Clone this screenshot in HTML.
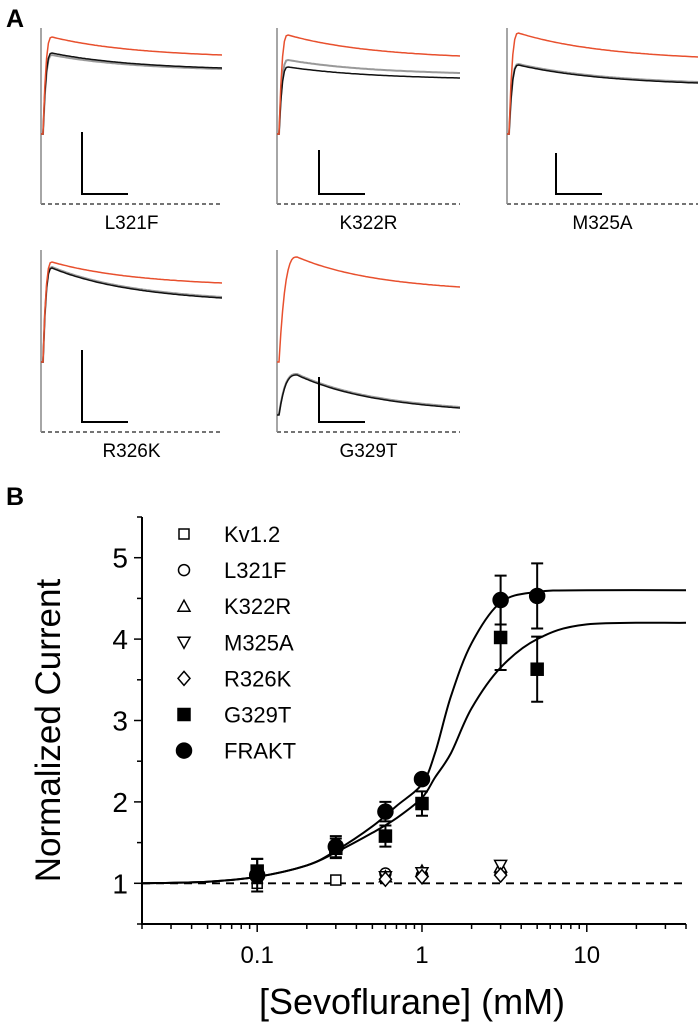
<!DOCTYPE html>
<html><head><meta charset="utf-8"><style>
body{margin:0;background:#fff;}
svg{display:block;font-family:"Liberation Sans",Arial,sans-serif;}
</style></head><body>
<svg id="fig" width="700" height="1026" viewBox="0 0 700 1026">
<text x="6" y="27" font-size="25" font-weight="bold">A</text>
<text x="6" y="505" font-size="25" font-weight="bold">B</text>
<g id="panelA"></g>
<g id="chart"></g>
</svg>
<script>
const NS="http://www.w3.org/2000/svg";
function mk(tag,attrs,parent,txt){const e=document.createElementNS(NS,tag);for(const k in attrs)e.setAttribute(k,attrs[k]);if(txt!==undefined)e.textContent=txt;parent.appendChild(e);return e;}

// ---------- Panel A: traces ----------
const traceNames=["L321F","K322R","M325A","R326K","G329T"];
const traceX0=[41,277,507,41,277];
const traceBase=[204,204,204,432,432];
const traceW=[181,183,191,181,183];
const redTr=[[37,55],[35,56],[33,57],[262,283],[257,287]];
const grayTr=[[55,69],[60,73],[64,82],[267,297],[374,407]];
const blackTr=[[53,68],[67,78],[65,83],[268,298],[375,408]];
const barX=[82,319,556,82,319];
const barTop=[132,150,153,350,377];
const A=document.getElementById('panelA');
function tracePath(x0,base,w,peak,end,tpk){
  const y0=Math.max(base-70,Math.min(base-10,peak+40));
  let d=`M${x0} ${y0}`;
  for(let i=0;i<=100;i++){
    const t=i/100, x=x0+2+t*(w-2);
    let y;
    const tp=tpk||0.05;
    if(t<tp){const r=t/tp;y=y0+(peak-y0)*(1-Math.pow(1-r,3));}
    else{const r=(t-tp)/(1-tp);y=end+(peak-end)*Math.exp(-r*2.2)-(peak-end)*Math.exp(-2.2)*r;}
    d+=` L${x.toFixed(1)} ${y.toFixed(1)}`;
  }
  return d;
}
for(let i=0;i<5;i++){
  const g=mk('g',{},A);
  
  
  const x0=traceX0[i],b=traceBase[i],w=traceW[i];
  mk('line',{x1:x0,y1:b,x2:x0+w,y2:b,stroke:'#222','stroke-width':1.2,'stroke-dasharray':'4,3'},g);
  mk('line',{x1:x0,y1:(i<3?28:250),x2:x0,y2:b,stroke:'#888','stroke-width':1.5},g);
  const tp=i===4?0.1:0.05;
  mk('path',{d:tracePath(x0,b,w,grayTr[i][0],grayTr[i][1],tp),fill:'none',stroke:'#999','stroke-width':2},g);
  mk('path',{d:tracePath(x0,b,w,blackTr[i][0],blackTr[i][1],tp),fill:'none',stroke:'#111','stroke-width':1.5},g);
  mk('path',{d:tracePath(x0,b,w,redTr[i][0],redTr[i][1],tp),fill:'none',stroke:'#e8502e','stroke-width':1.5},g);
  mk('path',{d:`M${barX[i]} ${barTop[i]} V${b-10} H${barX[i]+46}`,fill:'none',stroke:'#000','stroke-width':2},g);
  const t=mk('text',{x:x0+w/2,y:b+25,'font-size':19,'text-anchor':'middle'},g,traceNames[i]);
  
  
}

// ---------- Panel B: chart ----------
const concs=[0.1,0.3,0.6,1,3,5];
const kvX=[0.1,0.3]; const kvY=[1.0,1.04];
const l321fX=[0.6,1,3]; const l321fY=[1.12,1.1,1.12];
const k322rX=[0.6,1,3]; const k322rY=[1.08,1.15,1.2];
const m325aX=[0.6,1,3]; const m325aY=[1.08,1.13,1.22];
const r326kX=[0.6,1,3]; const r326kY=[1.05,1.08,1.1];
const g329tY=[1.15,1.43,1.58,1.98,4.02,3.63];
const g329tErr=[0.15,0.12,0.13,0.15,0.4,0.4];
const fraktY=[1.1,1.45,1.88,2.28,4.48,4.53];
const fraktErr=[0.2,0.13,0.12,0.05,0.3,0.4];
const fitX=[0.02,0.05,0.1,0.2,0.3,0.5,0.7,1,1.2,1.5,2,3,5,10,40];
const fitFrakt=[1.0,1.02,1.08,1.22,1.4,1.7,1.95,2.22,2.6,3.3,3.95,4.45,4.58,4.6,4.6];
const fitG329t=[1.0,1.02,1.08,1.22,1.38,1.62,1.8,2.05,2.3,2.6,3.15,3.65,4.0,4.18,4.2];
const yTicks=[1,2,3,4,5];
const xTickLabels=["0.1","1","10"];
const xTickVals=[0.1,1,10];
const legendNames=["Kv1.2","L321F","K322R","M325A","R326K","G329T","FRAKT"];

const L=142,R=686,T=517,B=924;
const xmin=Math.log10(0.02),xmax=Math.log10(40),ymin=0.5,ymax=5.5;
const sx=v=>L+(Math.log10(v)-xmin)/(xmax-xmin)*(R-L);
const sy=v=>B-(v-ymin)/(ymax-ymin)*(B-T);
const C=document.getElementById('chart');

const ax=mk('path',{d:`M${L} ${T} V${B} H${R}`,fill:'none',stroke:'#000','stroke-width':2},C);

for(let v=0.5;v<=5.5001;v+=0.5){const maj=Math.abs(v-Math.round(v))<1e-6;
  mk('line',{x1:L,x2:L-(maj?8:5),y1:sy(v),y2:sy(v),stroke:'#000','stroke-width':1.5},C);}
yTicks.forEach(v=>{const t=mk('text',{x:L-14,y:sy(v)+10,'font-size':28,'text-anchor':'end'},C,String(v));
  });
for(let d=-2;d<=1;d++)for(let m=1;m<=9;m++){const v=m*Math.pow(10,d);if(v<0.02||v>40)continue;
  mk('line',{x1:sx(v),x2:sx(v),y1:B,y2:B+(m===1?8:5),stroke:'#000','stroke-width':1.5},C);}
xTickLabels.forEach((s,i)=>{const t=mk('text',{x:sx(xTickVals[i]),y:963,'font-size':24,'text-anchor':'middle'},C,s);
  });
const xt=mk('text',{x:(L+R)/2-2,y:1014,'font-size':36,'text-anchor':'middle'},C,'[Sevoflurane] (mM)');

const yt=mk('text',{x:0,y:0,'font-size':35,'text-anchor':'middle',transform:`translate(60 ${(T+B)/2+10}) rotate(-90)`},C,'Normalized Current');


const bl=mk('line',{x1:sx(0.02),x2:R,y1:sy(1),y2:sy(1),stroke:'#000','stroke-width':1.8,'stroke-dasharray':'8,6'},C);


function curve(xs,ys){
  const px=xs.map(sx),py=ys.map(sy);let d=`M${px[0]} ${py[0]}`;
  for(let i=0;i<px.length-1;i++){
    const p0=i>0?i-1:i,p3=i+2<px.length?i+2:i+1;
    const c1x=px[i]+(px[i+1]-px[p0])/6,c1y=py[i]+(py[i+1]-py[p0])/6;
    const c2x=px[i+1]-(px[p3]-px[i])/6,c2y=py[i+1]-(py[p3]-py[i])/6;
    d+=` C${c1x.toFixed(1)} ${c1y.toFixed(1)} ${c2x.toFixed(1)} ${c2y.toFixed(1)} ${px[i+1].toFixed(1)} ${py[i+1].toFixed(1)}`;
  }return d;}
const f1=mk('path',{d:curve(fitX,fitFrakt),fill:'none',stroke:'#000','stroke-width':2},C);

const f2=mk('path',{d:curve(fitX,fitG329t),fill:'none',stroke:'#000','stroke-width':2},C);


function marker(g,type,x,y,s){
  const st={stroke:'#000','stroke-width':1.5};
  const fillOpen=Object.assign({fill:'#fff'},st), fillB=Object.assign({fill:'#000'},st);
  if(type==='sq')return mk('rect',Object.assign({x:x-s,y:y-s,width:2*s,height:2*s},fillOpen),g);
  if(type==='sqf')return mk('rect',Object.assign({x:x-s,y:y-s,width:2*s,height:2*s},fillB),g);
  if(type==='ci')return mk('circle',Object.assign({cx:x,cy:y,r:s+0.5},fillOpen),g);
  if(type==='cif')return mk('circle',Object.assign({cx:x,cy:y,r:s+1.5},fillB),g);
  if(type==='tu')return mk('path',Object.assign({d:`M${x} ${y-s-1} L${x+s+1} ${y+s} L${x-s-1} ${y+s}Z`},fillOpen),g);
  if(type==='td')return mk('path',Object.assign({d:`M${x} ${y+s+1} L${x+s+1} ${y-s} L${x-s-1} ${y-s}Z`},fillOpen),g);
  if(type==='di')return mk('path',Object.assign({d:`M${x} ${y-s-2} L${x+s+1} ${y} L${x} ${y+s+2} L${x-s-1} ${y}Z`},fillOpen),g);
}
function series(name,type,xs,ys,errs){
  const g=mk('g',{},C);
  
  
  xs.forEach((x,i)=>{
    if(errs){const e=errs[i];
      mk('path',{d:`M${sx(x)} ${sy(ys[i]-e)} V${sy(ys[i]+e)} M${sx(x)-6} ${sy(ys[i]-e)} h12 M${sx(x)-6} ${sy(ys[i]+e)} h12`,stroke:'#000','stroke-width':2,fill:'none'},g);}
    const m=marker(g,type,sx(x),sy(ys[i]),type.endsWith('f')?6:5);
    
    
  });
}
series('kv1-2','sq',kvX,kvY);
series('l321f','ci',l321fX,l321fY);
series('k322r','tu',k322rX,k322rY);
series('m325a','td',m325aX,m325aY);
series('r326k','di',r326kX,r326kY);
series('g329t','sqf',concs,g329tY,g329tErr);
series('frakt','cif',concs,fraktY,fraktErr);

const types=['sq','ci','tu','td','di','sqf','cif'];
const lg=mk('g',{},C);

legendNames.forEach((n,i)=>{
  const y=534+i*36.1;
  const e=mk('g',{},lg);
  
  
  marker(e,types[i],184,y,types[i].endsWith('f')?6:5);
  mk('text',{x:224,y:y+8,'font-size':22},e,n);
});
</script>
</body></html>
